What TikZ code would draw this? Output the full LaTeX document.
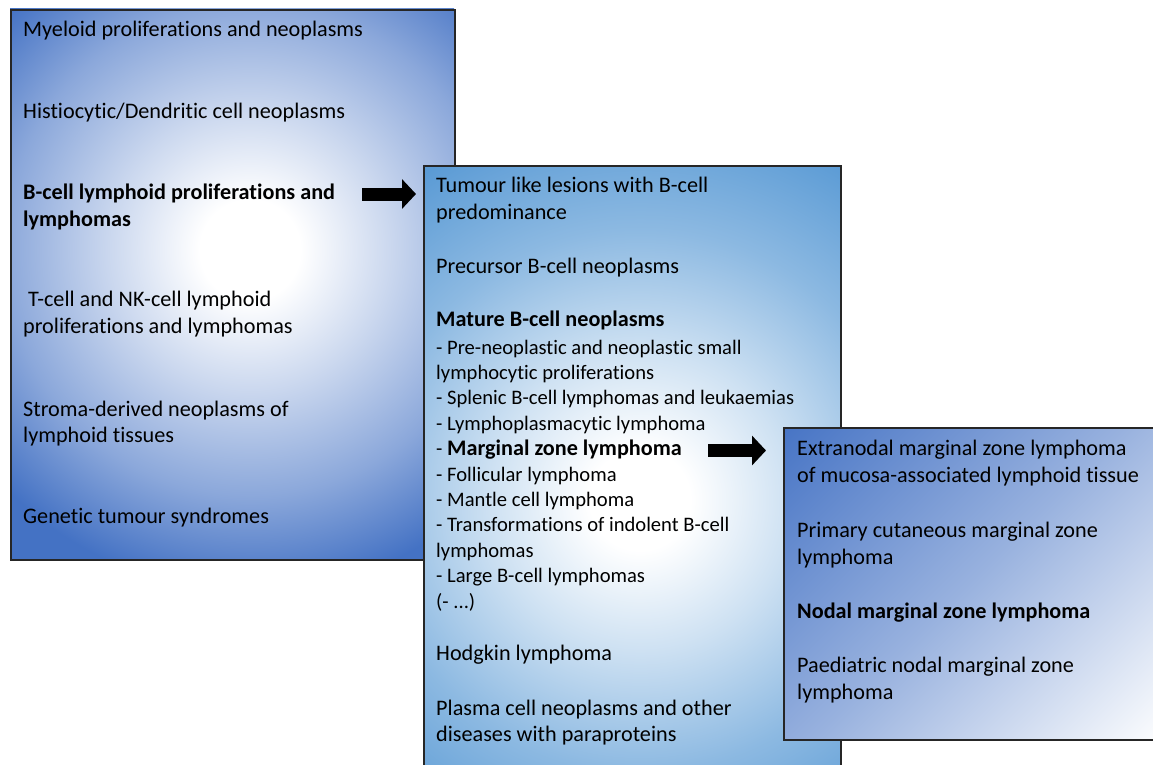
\documentclass[tikz,border=0pt]{standalone}
\usepackage{fontspec}
\setmainfont[Ligatures={NoCommon}]{Carlito}
\usetikzlibrary{arrows.meta,calc}
\definecolor{bdark}{HTML}{4472C4}
\definecolor{bmid}{HTML}{5B9BD5}
\pgfdeclareradialshading{shadeA}{\pgfpointorigin}{color(0bp)=(white); color(50bp)=(white); color(140bp)=(bdark!28!white); color(245bp)=(bdark!62!white); color(340bp)=(bdark); color(420bp)=(bdark)}
\pgfdeclareradialshading{shadeB}{\pgfpointorigin}{color(0bp)=(white); color(50bp)=(white); color(150bp)=(bmid!30!white); color(270bp)=(bmid!70!white); color(390bp)=(bmid); color(430bp)=(bmid)}
\pgfdeclarehorizontalshading{shadeC}{700bp}{color(0bp)=(bdark); color(100bp)=(bdark); color(350bp)=(bdark!55!white); color(600bp)=(white); color(700bp)=(white)}
\begin{document}
\begin{tikzpicture}[x=1pt,y=-1pt,
  boxline/.style={draw=black!85, line width=1.6pt, inner sep=0pt, anchor=north west},
  txt/.style={anchor=base west, inner sep=0pt, font=\fontsize{22.2}{26.7}\selectfont},
  lst/.style={anchor=base west, inner sep=0pt, font=\fontsize{20.6}{25.4}\selectfont},
  blockarrow/.style={line width=13pt, -{Triangle[length=14pt,width=29pt]}}]
\useasboundingbox (0,0) rectangle (1153,765);
\clip (0,0) rectangle (1153,765);
% box 1
\begin{scope}
\clip (10,9) rectangle (454,559);
\pgftext[at=\pgfpointxy{250}{250}]{\pgfuseshading{shadeA}}
\end{scope}
\node[boxline, minimum width=444pt, minimum height=550pt] (box1) at (10,9) {};
% box 2
\begin{scope}
\clip (423,165) rectangle (840,785);
\pgftext[at=\pgfpointxy{640}{500}]{\pgfuseshading{shadeB}}
\end{scope}
\node[boxline, minimum width=417pt, minimum height=620pt] (box2) at (423,165) {};
% box 3
\begin{scope}
\clip (783,427) rectangle (1175,739);
\begin{scope}[shift={(970,583)}, rotate=-45]
\pgflowlevelsynccm
\pgftext{\pgfuseshading{shadeC}}
\end{scope}
\end{scope}
\node[boxline, minimum width=392pt, minimum height=312pt] (box3) at (783,427) {};
% texts box 1
\node[txt] (t1) at (23,36.7) {Myeloid proliferations and neoplasms};
\node[txt] (t2) at (23,119) {Histiocytic/Dendritic cell neoplasms};
\node[txt] (t3) at (23,199.5) {\bfseries\vtop{\hbox{B-cell lymphoid proliferations and}\hbox{lymphomas}}};
\node[txt] (t4) at (23,306.5) {\vtop{\hbox{\ T-cell and NK-cell lymphoid}\hbox{proliferations and lymphomas}}};
\node[txt] (t5) at (23,416) {\vtop{\hbox{Stroma-derived neoplasms of}\hbox{lymphoid tissues}}};
\node[txt] (t6) at (23,523.5) {Genetic tumour syndromes};
% texts box 2
\node[txt] (u1) at (436,192.3) {\vtop{\hbox{Tumour like lesions with B-cell}\hbox{predominance}}};
\node[txt] (u2) at (436,273.3) {Precursor B-cell neoplasms};
\node[txt] (u3) at (436,326.7) {\bfseries Mature B-cell neoplasms};
\node[lst] (u4) at (436,354) {\vtop{\hbox{- Pre-neoplastic and neoplastic small}\hbox{lymphocytic proliferations}\hbox{- Splenic B-cell lymphomas and leukaemias}\hbox{- Lymphoplasmacytic lymphoma}\hbox{- {\fontsize{22.2}{25.4}\selectfont\bfseries Marginal zone lymphoma}}\hbox{- Follicular lymphoma}\hbox{- Mantle cell lymphoma}\hbox{- Transformations of indolent B-cell}\hbox{lymphomas}\hbox{- Large B-cell lymphomas}\hbox{(- ...)}}};
\node[txt] (u5) at (436,660) {Hodgkin lymphoma};
\node[txt] (u6) at (436,715) {\vtop{\hbox{Plasma cell neoplasms and other}\hbox{diseases with paraproteins}}};
% texts box 3
\node[txt] (v1) at (797,455.7) {\vtop{\hbox{Extranodal marginal zone lymphoma}\hbox{of mucosa-associated lymphoid tissue}}};
\node[txt] (v2) at (797,537.3) {\vtop{\hbox{Primary cutaneous marginal zone}\hbox{lymphoma}}};
\node[txt] (v3) at (797,618.3) {\bfseries Nodal marginal zone lymphoma};
\node[txt] (v4) at (797,672.3) {\vtop{\hbox{Paediatric nodal marginal zone}\hbox{lymphoma}}};
% arrows
\coordinate (a1) at (362,194);
\draw[blockarrow] (a1) -- ($(box2.west |- a1)+(-7,0)$);
\coordinate (a2) at (708,450.5);
\draw[blockarrow] (a2) -- ($(box3.west |- a2)+(-17,0)$);
\end{tikzpicture}
\end{document}
